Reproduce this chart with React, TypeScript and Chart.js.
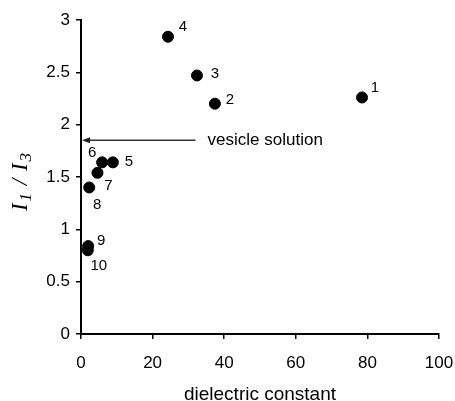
import React, { useEffect, useRef } from 'react';
import { Chart, registerables } from 'chart.js';

Chart.register(...registerables);

// ---- data ----
const pointLabels = ['1', '2', '3', '4', '5', '6', '7', '8', '9', '10'];
const dielectric = [78.5, 37.4, 32.4, 24.3, 8.9, 5.9, 4.6, 2.3, 2.0, 1.9];
const ratioI1I3 = [2.26, 2.2, 2.47, 2.84, 1.64, 1.64, 1.54, 1.4, 0.84, 0.8];
const xTickValues = [0, 20, 40, 60, 80, 100];
const yTickValues = [0, 0.5, 1, 1.5, 2, 2.5, 3];
const vesicleValue = 1.85;
const arrowTailX = 32;
const vesicleLabel = 'vesicle solution';
const xTitle = 'dielectric constant';

// ---- layout (pixel offsets for the point number labels) ----
const labelOffsets: [number, number][] = [
  [13, -10], [15, -4], [18, -2], [15, -10], [16, 0],
  [-10, -9], [11, 13], [8, 17], [13, -5], [11, 16],
];

const SANS = "'Liberation Sans', Arial, sans-serif";
const SERIF = "'Liberation Serif', 'Times New Roman', serif";

const annotationsPlugin = {
  id: 'annotations',
  afterDatasetsDraw(chart: any) {
    const ctx = chart.ctx as CanvasRenderingContext2D;
    const xs = chart.scales.x;
    const ys = chart.scales.y;
    ctx.save();
    // point number labels
    ctx.fillStyle = '#000';
    ctx.font = `15px ${SANS}`;
    ctx.textAlign = 'center';
    ctx.textBaseline = 'middle';
    const meta = chart.getDatasetMeta(0);
    meta.data.forEach((el: any, i: number) => {
      const [dx, dy] = labelOffsets[i];
      ctx.fillText(pointLabels[i], el.x + dx, el.y + dy);
    });
    // arrow
    const yPix = ys.getPixelForValue(vesicleValue);
    const x0 = xs.getPixelForValue(0);
    const x1 = xs.getPixelForValue(arrowTailX);
    ctx.strokeStyle = '#333';
    ctx.lineWidth = 1.5;
    ctx.beginPath();
    ctx.moveTo(x1, yPix);
    ctx.lineTo(x0 + 6, yPix);
    ctx.stroke();
    ctx.fillStyle = '#222';
    ctx.beginPath();
    ctx.moveTo(x0 + 1, yPix);
    ctx.lineTo(x0 + 9, yPix - 3);
    ctx.lineTo(x0 + 9, yPix + 3);
    ctx.closePath();
    ctx.fill();
    // arrow text
    ctx.fillStyle = '#000';
    ctx.font = `17px ${SANS}`;
    ctx.textAlign = 'left';
    ctx.fillText(vesicleLabel, x1 + 12, yPix);
    // y axis title  I1 / I3
    const parts: { t: string; sub: boolean }[] = [
      { t: 'I', sub: false },
      { t: '1', sub: true },
      { t: ' / ', sub: false },
      { t: 'I', sub: false },
      { t: '3', sub: true },
    ];
    const big = `italic 23px ${SERIF}`;
    const small = `italic 17px ${SERIF}`;
    const gap = 2;
    let total = 0;
    const widths = parts.map((p) => {
      ctx.font = p.sub ? small : big;
      const w = ctx.measureText(p.t).width;
      total += w;
      return w;
    });
    total += gap * (parts.length - 1);
    const cx = 21;
    const cy = 182;
    ctx.translate(cx, cy);
    ctx.rotate(-Math.PI / 2);
    ctx.textAlign = 'left';
    ctx.textBaseline = 'alphabetic';
    let pos = -total / 2;
    parts.forEach((p, i) => {
      ctx.font = p.sub ? small : big;
      ctx.fillText(p.t, pos, p.sub ? 10 : 6);
      pos += widths[i] + gap;
    });
    ctx.restore();
  },
};

const fmt = (v: any) => String(Number(v));

export default function App() {
  const ref = useRef<HTMLCanvasElement>(null);
  useEffect(() => {
    document.body.style.margin = '0';
    const canvas = ref.current!;
    const chart = new Chart(canvas, {
      type: 'scatter',
      data: {
        datasets: [
          {
            data: dielectric.map((x, i) => ({ x, y: ratioI1I3[i] })),
            backgroundColor: '#000',
            borderColor: '#000',
            pointRadius: 5.5,
            pointHoverRadius: 5.5,
          },
        ],
      },
      options: {
        responsive: false,
        animation: false,
        events: [],
        layout: { padding: { left: 0, right: 16, top: 20, bottom: 0 } },
        plugins: { legend: { display: false }, tooltip: { enabled: false } },
        scales: {
          x: {
            type: 'linear',
            min: 0,
            max: 100,
            afterBuildTicks: (s: any) => {
              s.ticks = xTickValues.map((v) => ({ value: v }));
            },
            afterFit: (s: any) => {
              s.height = 67;
              s.paddingLeft = 0;
              s.paddingRight = 0;
            },
            grid: {
              display: true,
              drawOnChartArea: false,
              drawTicks: true,
              tickLength: 5,
              color: '#000',
              lineWidth: 1.5,
            },
            border: { display: true, color: '#000', width: 2 },
            ticks: {
              color: '#000',
              font: { family: SANS, size: 17 },
              padding: 14,
              maxRotation: 0,
              callback: fmt,
            },
            title: {
              display: true,
              text: xTitle,
              color: '#000',
              font: { family: SANS, size: 19, lineHeight: 1 },
              padding: { top: 0, bottom: -3 },
            },
          },
          y: {
            type: 'linear',
            min: 0,
            max: 3,
            afterBuildTicks: (s: any) => {
              s.ticks = yTickValues.map((v) => ({ value: v }));
            },
            afterFit: (s: any) => {
              s.width = 81;
              s.paddingTop = 0;
              s.paddingBottom = 0;
            },
            grid: {
              display: true,
              drawOnChartArea: false,
              drawTicks: true,
              tickLength: 5,
              color: '#000',
              lineWidth: 1.5,
            },
            border: { display: true, color: '#000', width: 2 },
            ticks: {
              color: '#000',
              font: { family: SANS, size: 17 },
              padding: 6,
              callback: fmt,
            },
          },
        },
      },
      plugins: [annotationsPlugin],
    } as any);
    return () => chart.destroy();
  }, []);
  return (
    <canvas
      ref={ref}
      width={455}
      height={401}
      style={{ display: 'block', width: 455, height: 401 }}
    />
  );
}
